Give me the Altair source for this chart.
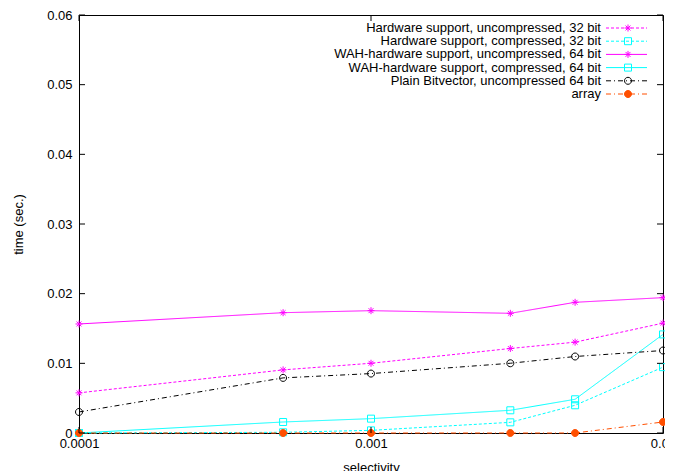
import altair as alt
import pandas as pd

# ---- data ----
x_vals = [0.0001, 0.0005, 0.001, 0.003, 0.005, 0.01]
names = [
    "Hardware support, uncompressed, 32 bit",
    "Hardware support, compressed, 32 bit",
    "WAH-hardware support, uncompressed, 64 bit",
    "WAH-hardware support, compressed, 64 bit",
    "Plain Bitvector, uncompressed 64 bit",
    "array",
]
hw_unc_32 = [0.00576, 0.00906, 0.01001, 0.01213, 0.01304, 0.01577]
hw_comp_32 = [0.0, 0.0001, 0.00038, 0.00153, 0.00398, 0.00945]
wah_unc_64 = [0.01565, 0.01727, 0.01756, 0.01718, 0.01876, 0.01943]
wah_comp_64 = [0.0, 0.00158, 0.00206, 0.00326, 0.00484, 0.01415]
plain_64 = [0.00302, 0.00791, 0.00853, 0.01001, 0.01098, 0.01184]
array_vals = [0.0, 0.0, 0.0, 0.0, 0.0, 0.00158]

y_ticks = [0, 0.01, 0.02, 0.03, 0.04, 0.05, 0.06]
x_ticks = [0.0001, 0.001, 0.01]

# ---- styles ----
ORANGE = "#ff4f00"
colors = ["#ff00ff", "#00ffff", "#ff00ff", "#00ffff", "#000000", ORANGE]
dashes = [[3, 2], [3, 2], [1, 0], [1, 0], [5, 3, 1, 3], [5, 3, 1, 3]]
ASTER = "M-1,0L1,0M0,-1L0,1M-0.7,-0.7L0.7,0.7M-0.7,0.7L0.7,-0.7"
CIRC = "M1,0A1,1,0,1,1,-1,0A1,1,0,1,1,1,0Z"
SQ = "M-1,-1L1,-1L1,1L-1,1Z"
shapes = [ASTER, SQ, ASTER, SQ, CIRC, CIRC]
fills = ["transparent"] * 5 + [ORANGE]

FONT = "Liberation Sans"
W, H = 584, 418

series = [hw_unc_32, hw_comp_32, wah_unc_64, wah_comp_64, plain_64, array_vals]
rows = []
for n, vals in zip(names, series):
    for xv, yv in zip(x_vals, vals):
        rows.append({"name": n, "x": xv, "y": yv})
df = pd.DataFrame(rows)

xscale = alt.Scale(type="log", domain=[0.0001, 0.01], nice=False)
yscale = alt.Scale(domain=[0, 0.06], nice=False, zero=False)
col = alt.Color("name:N", scale=alt.Scale(domain=names, range=colors), legend=None)
stk = alt.Stroke("name:N", scale=alt.Scale(domain=names, range=colors), legend=None)
dsh = alt.StrokeDash("name:N", scale=alt.Scale(domain=names, range=dashes), legend=None)
shp = alt.Shape("name:N", scale=alt.Scale(domain=names, range=shapes), legend=None)
fil = alt.Fill("name:N", scale=alt.Scale(domain=names, range=fills), legend=None)

xaxis = alt.Axis(
    values=x_ticks, format="~g", ticks=False, domain=False, grid=False,
    labelFlush=False, labelOverlap=False, labelPadding=4,
    title="selectivity", titlePadding=11,
    labelFont=FONT, labelFontSize=13, labelColor="black",
    titleFont=FONT, titleFontSize=13, titleFontWeight="normal", titleColor="black",
)
yaxis = alt.Axis(
    values=y_ticks, ticks=False, domain=False, grid=False,
    labelExpr="datum.value == 0 ? '0' : format(datum.value, '.2f')",
    labelPadding=7, labelFlush=False, labelOverlap=False,
    title="time (sec.)", titlePadding=21,
    labelFont=FONT, labelFontSize=13, labelColor="black",
    titleFont=FONT, titleFontSize=13, titleFontWeight="normal", titleColor="black",
)

base = alt.Chart(df)
lines = base.mark_line(strokeWidth=1).encode(
    x=alt.X("x:Q", scale=xscale, axis=xaxis),
    y=alt.Y("y:Q", scale=yscale, axis=yaxis),
    color=col,
    strokeDash=dsh,
    order=alt.Order("x:Q"),
)
points = base.mark_point(size=49, strokeWidth=1, opacity=1, filled=False).encode(
    x=alt.X("x:Q", scale=xscale, axis=xaxis),
    y=alt.Y("y:Q", scale=yscale, axis=yaxis),
    shape=shp,
    stroke=stk,
    fill=fil,
)

ydf = pd.DataFrame({"t": y_ticks})
xdf = pd.DataFrame({"t": x_ticks})
tick_l = alt.Chart(ydf).mark_rule(color="black", strokeWidth=1).encode(
    y=alt.Y("t:Q", scale=yscale, axis=yaxis), x=alt.value(0), x2=alt.value(6))
tick_r = alt.Chart(ydf).mark_rule(color="black", strokeWidth=1).encode(
    y=alt.Y("t:Q", scale=yscale, axis=yaxis), x=alt.value(W - 6), x2=alt.value(W))
tick_b = alt.Chart(xdf).mark_rule(color="black", strokeWidth=1).encode(
    x=alt.X("t:Q", scale=xscale, axis=xaxis), y=alt.value(H), y2=alt.value(H - 6))
tick_t = alt.Chart(xdf).mark_rule(color="black", strokeWidth=1).encode(
    x=alt.X("t:Q", scale=xscale, axis=xaxis), y=alt.value(0), y2=alt.value(6))

# ---- key (top right, inside the plot); rows placed by an identity scale ----
leg_df = pd.DataFrame({"name": names, "row": list(range(len(names)))})
leg_base = alt.Chart(leg_df).transform_calculate(py="13 + datum.row * 13.2")
ly = alt.Y("py:Q", scale=None)
leg_text = leg_base.mark_text(
    align="right", baseline="middle", fontSize=13, font=FONT, color="black"
).encode(y=ly, x=alt.value(522), text="name:N")
leg_line = leg_base.mark_rule(strokeWidth=1).encode(
    y=ly, x=alt.value(527), x2=alt.value(568), color=col, strokeDash=dsh)
leg_pt = leg_base.mark_point(size=49, strokeWidth=1, opacity=1, filled=False).encode(
    y=ly, x=alt.value(549), shape=shp, stroke=stk, fill=fil)

chart = (
    alt.layer(lines, points, tick_l, tick_r, tick_b, tick_t, leg_text, leg_line, leg_pt)
    .properties(
        width=W, height=H,
        background="white",
        autosize=alt.AutoSizeParams(type="none"),
        padding={"left": 71, "top": 7, "right": 2, "bottom": 38},
    )
    .configure_view(stroke="black", strokeWidth=1)
)

chart.save("out.html", embed_options={"renderer": "svg", "actions": False})
